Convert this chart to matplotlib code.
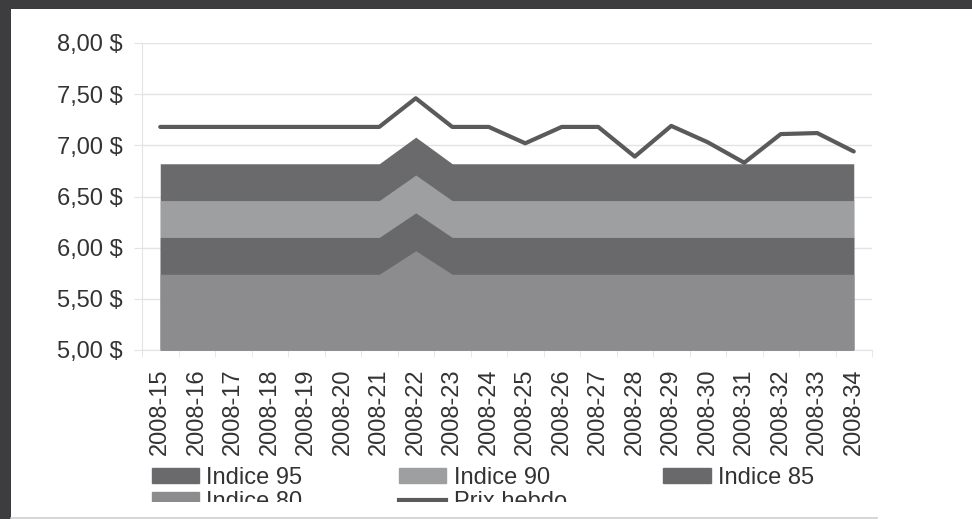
import matplotlib
matplotlib.use("Agg")
import matplotlib.pyplot as plt
from matplotlib.patches import Patch, Rectangle
from matplotlib.lines import Line2D

weeks = ["2008-15", "2008-16", "2008-17", "2008-18", "2008-19", "2008-20", "2008-21",
         "2008-22", "2008-23", "2008-24", "2008-25", "2008-26", "2008-27", "2008-28",
         "2008-29", "2008-30", "2008-31", "2008-32", "2008-33", "2008-34"]
prix_hebdo = [7.18, 7.18, 7.18, 7.18, 7.18, 7.18, 7.18, 7.46, 7.18, 7.18,
              7.02, 7.18, 7.18, 6.89, 7.19, 7.03, 6.83, 7.11, 7.12, 6.94]
indice_95 = [6.82, 6.82, 6.82, 6.82, 6.82, 6.82, 6.82, 7.08, 6.82, 6.82,
             6.82, 6.82, 6.82, 6.82, 6.82, 6.82, 6.82, 6.82, 6.82, 6.82]
indice_90 = [6.46, 6.46, 6.46, 6.46, 6.46, 6.46, 6.46, 6.71, 6.46, 6.46,
             6.46, 6.46, 6.46, 6.46, 6.46, 6.46, 6.46, 6.46, 6.46, 6.46]
indice_85 = [6.10, 6.10, 6.10, 6.10, 6.10, 6.10, 6.10, 6.34, 6.10, 6.10,
             6.10, 6.10, 6.10, 6.10, 6.10, 6.10, 6.10, 6.10, 6.10, 6.10]
indice_80 = [5.74, 5.74, 5.74, 5.74, 5.74, 5.74, 5.74, 5.97, 5.74, 5.74,
             5.74, 5.74, 5.74, 5.74, 5.74, 5.74, 5.74, 5.74, 5.74, 5.74]
y_ticks = [5.0, 5.5, 6.0, 6.5, 7.0, 7.5, 8.0]
y_tick_labels = ["5,00 $", "5,50 $", "6,00 $", "6,50 $", "7,00 $", "7,50 $", "8,00 $"]

c95, c90, c85, c80 = "#6a6a6c", "#9e9fa1", "#69696b", "#8c8c8e"
c_line = "#5a5a5c"
c_grid = "#e3e3e3"
c_text = "#333333"

plt.rcParams["font.family"] = ["Liberation Sans", "DejaVu Sans"]
plt.rcParams["font.size"] = 17

W, H = 972, 519
fig = plt.figure(figsize=(W / 100, H / 100), dpi=100)
fig.patch.set_facecolor("#3d3d3f")
# white panel behind everything
fig.patches.append(Rectangle((11 / W, 0), 1 - 11 / W, (H - 9) / H, transform=fig.transFigure,
                             facecolor="white", edgecolor="none", zorder=-5))

ax = fig.add_axes([142 / W, (H - 350) / H, 730 / W, 307 / H])
ax.set_facecolor("white")
x = list(range(len(weeks)))

ax.fill_between(x, 5, indice_95, color=c95, lw=0, zorder=2)
ax.fill_between(x, 5, indice_90, color=c90, lw=0, zorder=3)
ax.fill_between(x, 5, indice_85, color=c85, lw=0, zorder=4)
ax.fill_between(x, 5, indice_80, color=c80, lw=0, zorder=5)
ax.plot(x, prix_hebdo, color=c_line, lw=3, solid_capstyle="round", zorder=6)

ax.set_xlim(-0.5, len(weeks) - 0.5)
ax.set_ylim(5, 8)
ax.set_yticks(y_ticks)
ax.set_yticklabels(y_tick_labels, color=c_text)
ax.yaxis.grid(True, color=c_grid, lw=1)
ax.set_axisbelow(True)
ax.tick_params(axis="y", length=6, color=c_grid, pad=8)

ax.set_xticks(x)
ax.set_xticklabels(weeks, rotation=90, color=c_text)
ax.set_xticks([i - 0.5 for i in range(len(weeks) + 1)], minor=True)
ax.tick_params(axis="x", which="major", length=0, pad=13)
ax.tick_params(axis="x", which="minor", length=5, color=c_grid)

for s in ["top", "right"]:
    ax.spines[s].set_visible(False)
ax.spines["left"].set_color(c_grid)
ax.spines["bottom"].set_color(c_grid)

h95 = Patch(color=c95, label="Indice 95")
h90 = Patch(color=c90, label="Indice 90")
h85 = Patch(color=c85, label="Indice 85")
h80 = Patch(color=c80, label="Indice 80")
hpx = Line2D([], [], color=c_line, lw=3, label="Prix hebdo")
leg = fig.legend(handles=[h95, h80, h90, hpx, h85], ncol=3, loc="upper left",
                 bbox_to_anchor=(152 / W, (H - 467) / H), frameon=False,
                 borderpad=0, borderaxespad=0, handlelength=2.0, handleheight=0.6,
                 handletextpad=0.3, columnspacing=4.1, labelspacing=0.07)
for t in leg.get_texts():
    t.set_color(c_text)
leg.set_zorder(5)

# the legend box is cut off at the bottom
fig.patches.append(Rectangle((11 / W, 2 / H), 1 - 11 / W, (516 - 501) / H, transform=fig.transFigure,
                             facecolor="white", edgecolor="none", zorder=10))
fig.lines.append(Line2D([11 / W, 877 / W], [1.2 / H, 1.2 / H], transform=fig.transFigure,
                        color="#d0d0d0", lw=1.2, zorder=11))

fig.savefig("out.png", dpi=100, facecolor=fig.get_facecolor())
